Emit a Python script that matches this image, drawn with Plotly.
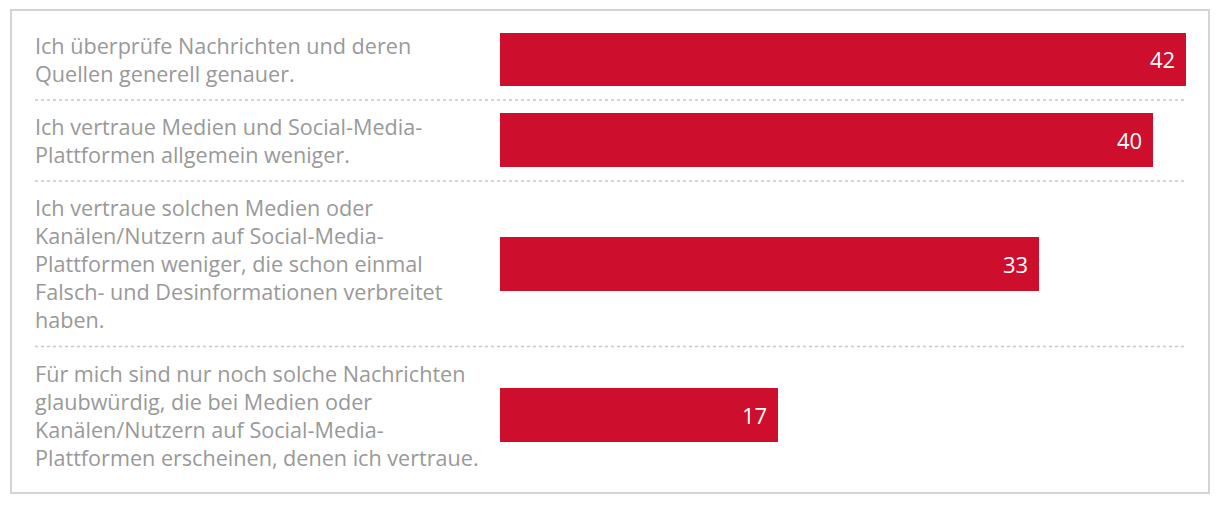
import plotly.graph_objects as go

labels = [
    "Ich überprüfe Nachrichten und deren<br>Quellen generell genauer.",
    "Ich vertraue Medien und Social-Media-<br>Plattformen allgemein weniger.",
    "Ich vertraue solchen Medien oder<br>Kanälen/Nutzern auf Social-Media-<br>Plattformen weniger, die schon einmal<br>Falsch- und Desinformationen verbreitet<br>haben.",
    "Für mich sind nur noch solche Nachrichten<br>glaubwürdig, die bei Medien oder<br>Kanälen/Nutzern auf Social-Media-<br>Plattformen erscheinen, denen ich vertraue.",
]
values = [42, 40, 33, 17]

OFF = 8  # page body margin
W, H = 1220 - 2 * OFF, 506 - 2 * OFF
L, R = 500 - OFF, 1220 - 1186 - OFF
T, B = 19 - OFF, 506 - 484 - OFF
PAD, LINE = 24.5, 28.3
FONT = "'Open Sans', sans-serif"
RED = "#CD0E2D"
GRAY = "#999999"

# row heights derived from label line counts
heights = [PAD + LINE * (lab.count("<br>") + 1) for lab in labels]
tops = []
acc = 0
for h in heights:
    tops.append(acc)
    acc += h
total = acc
centers = [t + h / 2 for t, h in zip(tops, heights)]
plot_h = H - T - B
plot_w = W - L - R

def px_x(p):
    return (p - OFF - L) / plot_w
def px_y(p):
    return 1 - (p - OFF - T) / plot_h

fig = go.Figure()
fig.add_trace(go.Bar(
    x=values, y=centers, orientation="h", width=54,
    marker=dict(color=RED, line=dict(width=0)),
    hoverinfo="skip",
))

annotations = []
for lab, c, v in zip(labels, centers, values):
    annotations.append(dict(
        x=px_x(33), xref="paper", y=c, yref="y",
        text=lab, showarrow=False, xanchor="left", yanchor="middle",
        align="left", font=dict(family=FONT, size=21.6, color=GRAY),
    ))
    annotations.append(dict(
        x=v, xref="x", y=c, yref="y", text=str(v), showarrow=False,
        xanchor="right", yanchor="middle", xshift=-9,
        font=dict(family=FONT, size=22, color="white"),
    ))

shapes = []
for t in tops[1:]:
    shapes.append(dict(
        type="line", xref="paper", yref="y",
        x0=px_x(35), x1=px_x(1187), y0=t, y1=t,
        line=dict(color="#c8c8c8", width=1.5, dash="dot"),
    ))
shapes.append(dict(
    type="rect", xref="paper", yref="paper",
    x0=px_x(11), x1=px_x(1209), y0=px_y(493), y1=px_y(10),
    line=dict(color="#d4d4d4", width=2), fillcolor="rgba(0,0,0,0)",
    layer="below",
))

fig.update_layout(
    width=W, height=H,
    margin=dict(l=L, r=R, t=T, b=B, pad=0),
    paper_bgcolor="white", plot_bgcolor="white",
    showlegend=False,
    xaxis=dict(range=[0, 42], visible=False, fixedrange=True),
    yaxis=dict(range=[total, 0], visible=False, fixedrange=True),
    annotations=annotations, shapes=shapes,
    bargap=0,
)

fig.write_html("out.html", config={"displayModeBar": False})
